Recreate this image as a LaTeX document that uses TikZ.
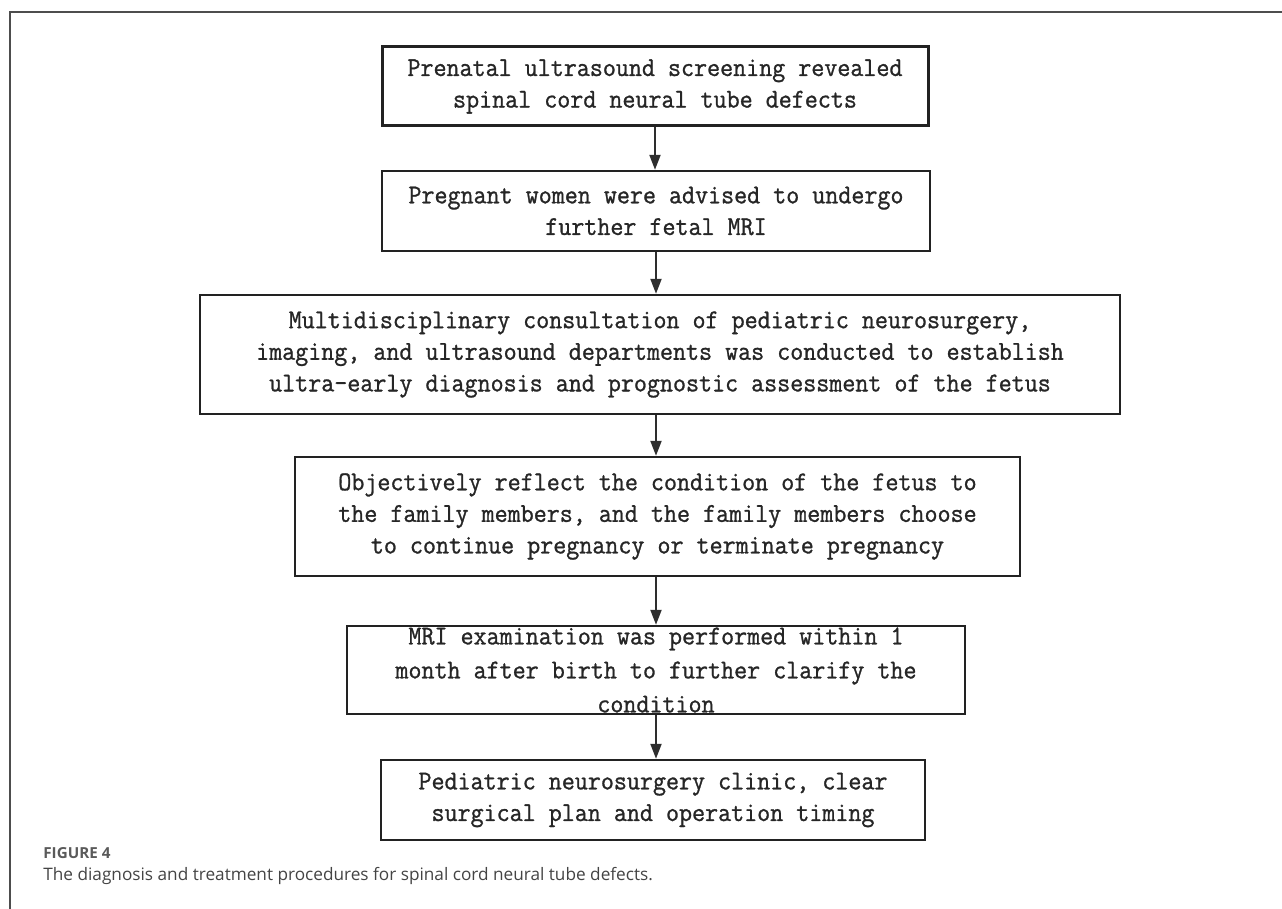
\documentclass[tikz,border=0pt]{standalone}
\usepackage{fontspec}
\usetikzlibrary{arrows.meta}
\newfontfamily\boxfont[FakeBold=1,FakeStretch=0.93]{Latin Modern Mono}
\newfontfamily\capfont{Open Sans}
\definecolor{boxline}{HTML}{222222}
\definecolor{arrowcol}{HTML}{2E2E2E}
\definecolor{framecol}{HTML}{4D4D4D}
\definecolor{captxt}{HTML}{444444}
\definecolor{figtxt}{HTML}{5A5A5A}
\tikzset{
  stepbox/.style={draw=boxline, line width=1.2pt, fill=white, inner sep=0pt,
    align=center, font=\boxfont\fontsize{13.6pt}{15.8pt}\selectfont, text=black!85},
  boxtext/.style={inner sep=0pt, align=center, font=\boxfont\fontsize{13.6pt}{17pt}\selectfont, text=black!85},
  flow/.style={draw=arrowcol, line width=1pt, -{Triangle[length=7.5pt,width=5.5pt]}},
  frameline/.style={draw=framecol, line width=0.8pt},
}
\begin{document}
\begin{tikzpicture}[x=0.5pt, y=-0.5pt]
\useasboundingbox (0,0) rectangle (1282,909);
\draw[frameline] (10,909) -- (10,12) -- (1282,12);

\node[stepbox, line width=1.5pt, minimum width=273pt, minimum height=39.5pt] (b1) at (655,86.5)
  {Prenatal ultrasound screening revealed\\spinal cord neural tube defects};
\node[stepbox, minimum width=274pt, minimum height=40pt] (b2) at (656,211)
  {Pregnant women were advised to undergo\\further fetal MRI};
\node[stepbox, minimum width=460pt, minimum height=59.5pt] (b3) at (660,354.5)
  {Multidisciplinary consultation of pediatric neurosurgery,\\imaging, and ultrasound departments was conducted to establish\\ultra-early diagnosis and prognostic assessment of the fetus};
\node[stepbox, minimum width=362.5pt, minimum height=59.5pt] (b4) at (657.5,516.5)
  {Objectively reflect the condition of the fetus to\\the family members, and the family members choose\\to continue pregnancy or terminate pregnancy};
\node[stepbox, fill=none, minimum width=309pt, minimum height=44pt] (b5) at (656,670) {};
\node[boxtext] (t5) at (656,670)
  {MRI examination was performed within 1\\month after birth to further clarify the\\condition};
\node[stepbox, minimum width=272pt, minimum height=40pt] (b6) at (653,800)
  {Pediatric neurosurgery clinic, clear\\surgical plan and operation timing};

\draw[flow] (b1.south) -- (b1.south |- b2.north);
\draw[flow] (b2.south) -- (b2.south |- b3.north);
\draw[flow] (b2.south |- b3.south) -- (b2.south |- b4.north);
\draw[flow] (b5.north |- b4.south) -- (b5.north);
\draw[flow] (b5.south) -- (b5.south |- b6.north);

\node[anchor=west, inner sep=0pt, font=\capfont\bfseries\fontsize{7.6pt}{9pt}\selectfont, text=figtxt] (fig) at (43,853) {FIGURE 4};
\node[anchor=west, inner sep=0pt, font=\capfont\fontsize{8.6pt}{10pt}\selectfont, text=captxt] (cap) at (43,876) {The diagnosis and treatment procedures for spinal cord neural tube defects.};
\end{tikzpicture}
\end{document}
